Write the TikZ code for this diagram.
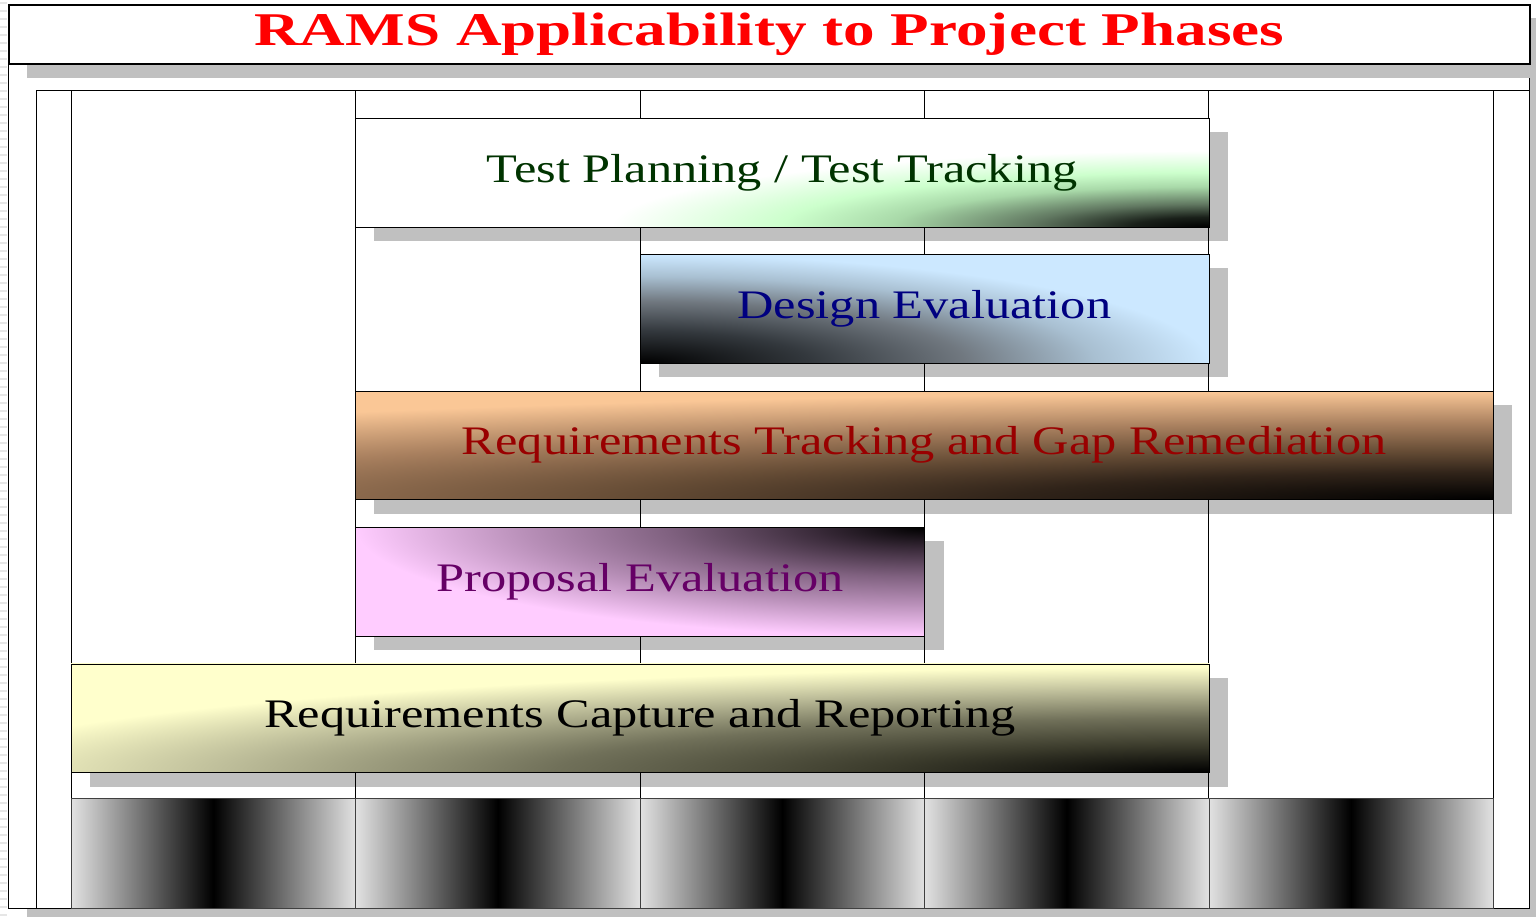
\documentclass[tikz,border=0pt]{standalone}
\usepackage{fontspec}
\setmainfont{Liberation Serif}
\newfontfamily\titlefam[FakeStretch=1.346]{Liberation Serif}
\newfontfamily\barfam[FakeStretch=1.245]{Liberation Serif}
\usetikzlibrary{calc}
\definecolor{shadowgray}{HTML}{C0C0C0}
\definecolor{stripegray}{HTML}{E6E6E6}
\definecolor{cellgray}{HTML}{E2E2E2}
\definecolor{titlered}{HTML}{FF0000}
\definecolor{tpgreen}{HTML}{003300}
\definecolor{denavy}{HTML}{000080}
\definecolor{rtred}{HTML}{990000}
\definecolor{pepurple}{HTML}{660066}
\definecolor{deblue}{HTML}{CCE8FF}
\definecolor{rtorange}{HTML}{FBC896}
\definecolor{pepink}{HTML}{FFCCFF}
\definecolor{rcyellow}{HTML}{FFFFCC}
\newcommand\titlefont{\titlefam\fontsize{46.9}{56}\selectfont\bfseries}
\newcommand\barfont{\barfam\fontsize{40.5}{48}\selectfont}
\pgfdeclarelayer{back}
\pgfdeclarelayer{shadows}
\pgfdeclarelayer{grid}
\pgfsetlayers{back,shadows,grid,main}
% bar shadings, radial from the dark corner
\pgfdeclareradialshading{tpshade}{\pgfpointorigin}{rgb(0bp)=(0,0,0); rgb(2.25bp)=(0.10,0.125,0.10); rgb(5.25bp)=(0.38,0.47,0.38); rgb(9.25bp)=(0.66,0.85,0.66); rgb(12.5bp)=(0.80,1,0.80); rgb(17.5bp)=(1,1,1); rgb(72bp)=(1,1,1)}
\pgfdeclareradialshading{deshade}{\pgfpointorigin}{rgb(0bp)=(0,0,0); rgb(7.5bp)=(0.20,0.22,0.24); rgb(14.25bp)=(0.44,0.47,0.50); rgb(20bp)=(0.66,0.75,0.82); rgb(25bp)=(0.80,0.91,1); rgb(72bp)=(0.80,0.91,1)}
\pgfdeclareradialshading{rtshade}{\pgfpointorigin}{rgb(0bp)=(0,0,0); rgb(6.25bp)=(0.19,0.14,0.10); rgb(11.25bp)=(0.40,0.30,0.21); rgb(17.5bp)=(0.66,0.50,0.37); rgb(25bp)=(0.98,0.78,0.59); rgb(72bp)=(0.98,0.78,0.59)}
\pgfdeclareradialshading{peshade}{\pgfpointorigin}{rgb(0bp)=(0,0,0); rgb(5bp)=(0.23,0.17,0.23); rgb(11.25bp)=(0.50,0.38,0.50); rgb(17.5bp)=(0.72,0.56,0.72); rgb(25bp)=(1,0.80,1); rgb(72bp)=(1,0.80,1)}
\pgfdeclareradialshading{rcshade}{\pgfpointorigin}{rgb(0bp)=(0,0,0); rgb(6.25bp)=(0.23,0.23,0.17); rgb(12.5bp)=(0.44,0.44,0.35); rgb(18.75bp)=(0.74,0.74,0.60); rgb(24.25bp)=(1,1,0.80); rgb(72bp)=(1,1,0.80)}

\begin{document}
\begin{tikzpicture}[
  x=1pt,y=-1pt,line width=1.2pt,
  box/.style={draw,fill=white,anchor=north west,inner sep=0pt},
  titlebox/.style={box,line width=1.6pt,minimum width=1521pt,minimum height=59pt,text=titlered,font=\titlefont},
  bar/.style n args={3}{draw,anchor=north west,inner sep=0pt,minimum height=108.5pt,font=\barfont,
    path picture={\shade[shading=#1] let \p1=(path picture bounding box.#2), \p2=(path picture bounding box.center) in
      ({\x1-2*#3*(\x1-\x2)},{\y1-2*(\y1-\y2)}) rectangle ({\x1+2*#3*(\x1-\x2)},{\y1+2*(\y1-\y2)});}},
  phase/.style={draw=black!75,anchor=north west,inner sep=0pt,minimum width=284.4pt,minimum height=110pt,left color=cellgray,right color=cellgray,middle color=black}
]
  \useasboundingbox (0,0) rectangle (1536,916);
  \foreach \y in {2,10,...,914} \fill[stripegray] (0,\y) rectangle (7,\y+2);

  \begin{pgfonlayer}{back}
    \fill[shadowgray] (27,18) rectangle (1548,922);
    \node[box,minimum width=1521pt,minimum height=904pt] (frame) at (8,4) {};
    \fill[shadowgray] (27,18) rectangle (1548,78);
    \node[titlebox] (title) at (8,4) {RAMS Applicability to Project Phases};
  \end{pgfonlayer}

  \begin{pgfonlayer}{grid}
    \draw (1529,90) -| (36,908);
    \draw (71,90) -- (71,908);
    \foreach \x in {355.4,639.8,924.2,1208.6,1493} \draw (\x,90) -- (\x,798);
  \end{pgfonlayer}

  \node[bar={tpshade}{south east}{1},fill=white,minimum width=853.2pt,text=tpgreen] (tp) at (355.4,118) {Test Planning / Test Tracking};
  \node[bar={deshade}{south west}{1},fill=deblue,minimum width=568.8pt,text=denavy] (de) at (639.8,254.4) {Design Evaluation};
  \node[bar={rtshade}{south east}{1.7},fill=rtorange,minimum width=1137.6pt,text=rtred] (rt) at (355.4,390.8) {Requirements Tracking and Gap Remediation};
  \node[bar={peshade}{north east}{1},fill=pepink,minimum width=568.8pt,text=pepurple] (pe) at (355.4,527.2) {Proposal Evaluation};
  \node[bar={rcshade}{south east}{1.15},fill=rcyellow,minimum width=1137.6pt,text=black] (rc) at (71,663.6) {Requirements Capture and Reporting};

  \begin{pgfonlayer}{shadows}
    \foreach \b in {tp,de,rt,pe,rc}
      \fill[shadowgray] ([shift={(19,14)}]\b.north west) rectangle ([shift={(19,14)}]\b.south east);
  \end{pgfonlayer}

  \foreach \i in {1,...,5}
    \node[phase] (ph\i) at ({71+284.4*(\i-1)},798) {};
\end{tikzpicture}
\end{document}
